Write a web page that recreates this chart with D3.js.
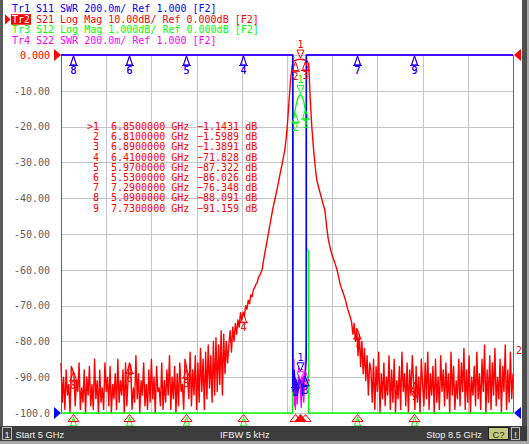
<!DOCTYPE html>
<html>
<head>
<meta charset="utf-8">
<script src="https://cdn.jsdelivr.net/npm/d3@7"></script>
<style>
  html, body { margin: 0; padding: 0; background: #fff; }
  svg { display: block; font-family: "DejaVu Sans Mono", monospace; font-size: 10px; }
</style>
</head>
<body>
<svg id="chart" width="529" height="444"></svg>
<script>
// ---- data ----
const fStart = 5, fStop = 8.5;
const gridFreqs = [5, 5.35, 5.7, 6.05, 6.4, 6.75, 7.1, 7.45, 7.8, 8.15, 8.5];
const yTickValues = [0, -10, -20, -30, -40, -50, -60, -70, -80, -90, -100];
const yTickLabels = ["0.000", "-10.00", "-20.00", "-30.00", "-40.00", "-50.00",
                     "-60.00", "-70.00", "-80.00", "-90.00", "-100.0"];

const traceNames = ["Tr1", "Tr2", "Tr3", "Tr4"];
const traceParams = ["S11", "S21", "S12", "S22"];
const traceFormats = ["SWR", "Log Mag", "Log Mag", "SWR"];
const traceScales = ["200.0m/", "10.00dB/", "1.000dB/", "200.0m/"];
const traceRefs = ["1.000", "0.000dB", "0.000dB", "1.000"];
const traceColors = ["#0000ff", "#ff0000", "#00ff00", "#ff00ff"];
const activeTrace = 1;

// S21 noise floor below the passband, 5.00 .. 6.29 GHz, 10 MHz apart
const noiseLoStart = 5.00, noiseStep = 0.01;
const s21NoiseLo = [
  -86, -97, -90, -99, -88, -95, -92, -100, -87, -88,
  -89, -98, -91, -94, -86, -99, -93, -97, -88, -100,
  -90, -95, -87, -98, -92, -99, -85, -96, -91, -100,
  -88, -97, -93, -99, -86, -94, -90, -98, -87, -100,
  -92, -96, -89, -99, -85, -97, -91, -95, -88, -100,
  -86, -98, -90, -86, -87, -99, -93, -97, -84, -96,
  -89, -100, -91, -95, -86, -98, -92, -99, -88, -97,
  -85, -96, -90, -100, -87, -94, -93, -98, -86, -99,
  -91, -97, -88, -95, -84, -99, -90, -96, -87, -100,
  -89, -98, -86, -94, -92, -99, -85, -87, -90, -96,
  -83, -98, -88, -95, -84, -99, -86, -97, -82, -94,
  -85, -99, -83, -96, -81, -93, -84, -97, -80, -95,
  -79, -94, -81, -92, -77, -95, -78, -89, -80, -86
];
// S21 skirts and passband [GHz, dB]
const s21Band = [
  [6.30, -81], [6.31, -77], [6.32, -83], [6.33, -76], [6.34, -80], [6.35, -75],
  [6.36, -78], [6.37, -74], [6.38, -76], [6.39, -72], [6.40, -74], [6.41, -71.828],
  [6.42, -73], [6.43, -70], [6.44, -71], [6.45, -68.5], [6.46, -69.5], [6.47, -67],
  [6.48, -67.5], [6.49, -65.5], [6.50, -65], [6.51, -64], [6.52, -63.5], [6.53, -62],
  [6.54, -61.5], [6.557, -60], [6.57, -57], [6.58, -55], [6.598, -51.5], [6.61, -49],
  [6.625, -46], [6.64, -43], [6.655, -40.5], [6.67, -38], [6.687, -35], [6.70, -32.5],
  [6.715, -30], [6.735, -26], [6.75, -21], [6.768, -11.7], [6.78, -6], [6.79, -3],
  [6.799, -1.8], [6.81, -1.5989], [6.83, -1.3], [6.85, -1.1431], [6.87, -1.25],
  [6.89, -1.3891], [6.905, -1.6], [6.918, -2.5], [6.929, -11.7], [6.942, -20],
  [6.955, -26], [6.968, -31], [6.98, -34.8], [6.995, -37], [7.01, -39], [7.025, -41],
  [7.044, -43.5], [7.057, -48], [7.07, -51.5], [7.085, -54], [7.10, -56], [7.12, -58],
  [7.137, -60], [7.15, -62], [7.161, -64], [7.175, -65.5], [7.19, -67], [7.199, -68],
  [7.21, -69.5], [7.22, -71], [7.238, -73], [7.25, -74.5], [7.26, -78], [7.27, -75],
  [7.28, -80], [7.29, -76.348]
];
// S21 noise floor above the passband, 7.30 .. 8.50 GHz
const noiseHiStart = 7.30;
const s21NoiseHi = [
  -84, -78, -87, -80, -89, -82, -91, -84, -95, -86,
  -88, -97, -85, -99, -87, -94, -83, -100, -89, -96,
  -86, -98, -90, -95, -84, -99, -88, -97, -85, -100,
  -91, -96, -87, -99, -83, -94, -89, -98, -86, -100,
  -88, -95, -84, -91.159, -99, -87, -97, -90, -100, -85,
  -92, -98, -86, -96, -83, -99, -89, -95, -87, -100,
  -85, -97, -90, -99, -84, -94, -88, -98, -86, -96,
  -89, -100, -83, -95, -87, -99, -91, -96, -85, -98,
  -86, -94, -82, -99, -88, -97, -84, -100, -90, -95,
  -87, -98, -83, -96, -89, -99, -85, -94, -81, -100,
  -88, -97, -84, -99, -86, -95, -82, -98, -90, -96,
  -85, -100, -87, -94, -81, -99, -88, -97, -83, -96,
  -89
];
// S12, 1 dB/div [GHz, dB]
const s12 = [
  [5.0, -60], [6.70, -40], [6.79, -15], [6.7925, -11], [6.7935, -3.4], [6.7995, -3.0],
  [6.80, -1.75], [6.81, -1.6], [6.82, -1.4], [6.835, -1.2], [6.85, -1.1], [6.865, -1.15],
  [6.88, -1.3], [6.89, -1.5], [6.897, -1.65], [6.90, -3], [6.901, -5.4], [6.912, -5.45],
  [6.9165, -5.5], [6.917, -10.5], [6.92, -15], [7.0, -40], [8.5, -60]
];
// S11 SWR
const s11 = [
  [5.0, 5], [6.7935, 5], [6.794, 1.17], [6.798, 1.12], [6.802, 1.2], [6.806, 1.24],
  [6.81, 1.2], [6.815, 1.1], [6.82, 1.18], [6.83, 1.1], [6.84, 1.14], [6.85, 1.23],
  [6.86, 1.16], [6.87, 1.1], [6.88, 1.2], [6.89, 1.21], [6.895, 1.25], [6.90, 1.3],
  [6.901, 5], [8.5, 5]
];
// S22 SWR
const s22 = [
  [5.0, 5], [6.798, 5], [6.7985, 1.45], [6.80, 1.1], [6.803, 1.3], [6.806, 1.04],
  [6.81, 1.2], [6.815, 1.02], [6.82, 1.15], [6.83, 1.05], [6.84, 1.25], [6.85, 1.18],
  [6.86, 1.03], [6.87, 1.2], [6.88, 1.06], [6.89, 1.24], [6.895, 1.35], [6.897, 1.4],
  [6.8975, 5], [8.5, 5]
];

const markerIds = ["1", "2", "3", "4", "5", "6", "7", "8", "9"];
const markerFreqs = [6.85, 6.81, 6.89, 6.41, 5.97, 5.53, 7.29, 5.09, 7.73];
const markerVals = [-1.1431, -1.5989, -1.3891, -71.828, -87.322, -86.026, -76.348, -88.091, -91.159];

const statusStart = "Start 5 GHz", statusIfbw = "IFBW 5 kHz", statusStop = "Stop 8.5 GHz";

// ---- layout ----
const plot = { left: 61, right: 513, top: 55, bottom: 413 };
const svg = d3.select("#chart");

const x = d3.scaleLinear().domain([fStart, fStop]).range([plot.left, plot.right]);
const yLog = d3.scaleLinear().domain([0, -100]).range([plot.top, plot.bottom]).clamp(true);
const yS12 = d3.scaleLinear().domain([0, -10]).range([plot.top, plot.bottom]).clamp(true);
const ySwr = d3.scaleLinear().domain([1, 3]).range([plot.bottom, plot.top]).clamp(true);

const s21 = s21NoiseLo.map((v, i) => [noiseLoStart + i * noiseStep, v])
  .concat(s21Band)
  .concat(s21NoiseHi.map((v, i) => [noiseHiStart + i * noiseStep, v]));

// window frame
svg.append("rect").attr("width", 529).attr("height", 444).attr("fill", "#fff");
svg.append("rect").attr("x", 0).attr("y", 0).attr("width", 3).attr("height", 426).attr("fill", "#5c5c5c");
svg.append("rect").attr("x", 522).attr("y", 0).attr("width", 5).attr("height", 426).attr("fill", "#4e4e4e");
svg.append("rect").attr("x", 527).attr("y", 0).attr("width", 2).attr("height", 444).attr("fill", "#a8a8a8");
svg.append("rect").attr("x", 0).attr("y", 441).attr("width", 529).attr("height", 3).attr("fill", "#a8a8a8");

// header lines
const header = svg.append("g");
traceNames.forEach((name, i) => {
  const yb = 12 + i * 10.7;
  if (i === activeTrace) {
    header.append("rect").attr("x", 11).attr("y", yb - 8.5).attr("width", 20).attr("height", 10.5)
      .attr("fill", traceColors[i]);
    header.append("path").attr("d", `M5,${yb - 8.5}L10.5,${yb - 3.2}L5,${yb + 2}Z`).attr("fill", traceColors[i]);
  }
  header.append("text").attr("x", 12).attr("y", yb)
    .attr("fill", i === activeTrace ? "#fff" : traceColors[i]).text(name);
  header.append("text").attr("x", 36).attr("y", yb).attr("fill", traceColors[i])
    .text(`${traceParams[i]} ${traceFormats[i]} ${traceScales[i]} Ref ${traceRefs[i]} [F2]`);
});

// grid
const gy = svg.append("g").attr("transform", `translate(${plot.left},0)`)
  .call(d3.axisLeft(yLog).tickValues(yTickValues).tickSize(-(plot.right - plot.left))
    .tickPadding(11).tickFormat((d, i) => yTickLabels[i]));
gy.select(".domain").remove();
gy.selectAll("line").attr("stroke", "#c4c4c4").attr("shape-rendering", "crispEdges");
gy.selectAll("text").attr("font-family", "DejaVu Sans Mono").attr("font-size", 10)
  .attr("fill", (d, i) => i === 0 ? "#ff0000" : "#5e5e5e");

const gx = svg.append("g").attr("transform", `translate(0,${plot.bottom})`)
  .call(d3.axisBottom(x).tickValues(gridFreqs).tickSize(-(plot.bottom - plot.top)).tickFormat(""));
gx.select(".domain").remove();
gx.selectAll("line").attr("stroke", "#c4c4c4").attr("shape-rendering", "crispEdges");

// plot frame sides
[plot.left, plot.right].forEach(px => {
  svg.append("line").attr("x1", px + 0.5).attr("x2", px + 0.5).attr("y1", plot.top).attr("y2", plot.bottom)
    .attr("stroke", "#666").attr("shape-rendering", "crispEdges");
});

// traces
const traces = svg.append("g").attr("fill", "none").attr("stroke-linejoin", "round");
const lineLog = d3.line().x(d => x(d[0])).y(d => yLog(d[1]));
const lineS12 = d3.line().x(d => x(d[0])).y(d => yS12(d[1]));
const lineSwr = d3.line().x(d => x(d[0])).y(d => ySwr(d[1]));

traces.append("path").attr("d", lineLog(s21)).attr("stroke", traceColors[1]).attr("stroke-width", 1.4);
traces.append("path").attr("d", lineS12(s12)).attr("stroke", traceColors[2]).attr("stroke-width", 1.3);
traces.append("path").attr("d", lineSwr(s22)).attr("stroke", traceColors[3]).attr("stroke-width", 1.3);
traces.append("path").attr("d", lineSwr(s11)).attr("stroke", traceColors[0]).attr("stroke-width", 1.3);

// marker glyphs
const bis = d3.bisector(d => d[0]).center;
const nearest = (data, f) => data[bis(data, f)][1];

function glyph(g, cx, cy, color, label, active) {
  cx = Math.round(cx) + 0.5;
  if (active) {
    g.append("path").attr("d", `M${cx},${cy - 1}L${cx - 3.5},${cy - 9}L${cx + 3.5},${cy - 9}Z`)
      .attr("fill", "#fff").attr("stroke", color);
    g.append("text").attr("x", cx).attr("y", cy - 11).attr("text-anchor", "middle").attr("fill", color).text(label);
  } else {
    g.append("path").attr("d", `M${cx},${cy + 1}L${cx - 3},${cy + 10}L${cx + 3},${cy + 10}Z`)
      .attr("fill", "none").attr("stroke", color);
    g.append("line").attr("x1", cx - 4.5).attr("x2", cx + 4.5).attr("y1", cy + 10.5).attr("y2", cy + 10.5)
      .attr("stroke", color);
    // a label that would fall below the grid is hidden by the status bar on the instrument
    if (cy + 19 < plot.bottom) {
      g.append("text").attr("x", cx).attr("y", cy + 19).attr("text-anchor", "middle").attr("fill", color).text(label);
    }
  }
}

const marks = svg.append("g");
markerFreqs.forEach((f, i) => {
  glyph(marks, x(f), yLog(markerVals[i]), traceColors[1], markerIds[i], i === 0);
});
markerFreqs.forEach((f, i) => {
  glyph(marks, x(f), yS12(nearest(s12, f)) + (yS12(nearest(s12, f)) >= plot.bottom ? 3 : 0),
    traceColors[2], markerIds[i], i === 0);
});
markerFreqs.forEach((f, i) => {
  glyph(marks, x(f), ySwr(nearest(s22, f)), traceColors[3], markerIds[i], i === 0);
});
markerFreqs.forEach((f, i) => {
  glyph(marks, x(f), ySwr(nearest(s11, f)), traceColors[0], markerIds[i], i === 0);
});

// stimulus markers along the bottom edge
markerFreqs.forEach((f, i) => {
  const cx = Math.round(x(f)) + 0.5;
  marks.append("path").attr("d", `M${cx},${plot.bottom + 1.5}L${cx - 5.5},${plot.bottom + 8.5}L${cx + 5.5},${plot.bottom + 8.5}Z`)
    .attr("fill", i === 0 ? traceColors[1] : "none").attr("stroke", traceColors[1]);
});

// reference position arrows
const ref = svg.append("g");
ref.append("path").attr("d", `M${plot.left - 7},${plot.top - 6}L${plot.left},${plot.top}L${plot.left - 7},${plot.top + 6}Z`).attr("fill", traceColors[1]);
ref.append("path").attr("d", `M${plot.left - 7},${plot.bottom - 6}L${plot.left},${plot.bottom}L${plot.left - 7},${plot.bottom + 6}Z`).attr("fill", traceColors[0]);
ref.append("path").attr("d", `M${plot.right + 8},${plot.top - 6}L${plot.right + 1},${plot.top}L${plot.right + 8},${plot.top + 6}Z`).attr("fill", traceColors[1]);
ref.append("path").attr("d", `M${plot.right + 8},${plot.bottom - 6}L${plot.right + 1},${plot.bottom}L${plot.right + 8},${plot.bottom + 6}Z`).attr("fill", traceColors[0]);
ref.append("text").attr("x", plot.right + 3).attr("y", 354).attr("fill", traceColors[1]).text("2");

// marker table
const table = svg.append("g").attr("fill", traceColors[1]);
const fmtF = d3.format(".7f"), fmtV = d3.format(".5r");
markerIds.forEach((id, i) => {
  const yb = 130 + i * 10.2;
  table.append("text").attr("x", 99).attr("y", yb).attr("text-anchor", "end").text((i === 0 ? ">" : "") + id);
  table.append("text").attr("x", 111).attr("y", yb).text(`${fmtF(markerFreqs[i])} GHz`);
  table.append("text").attr("x", 197).attr("y", yb).text(`${fmtV(markerVals[i])} dB`);
});

// status bar
const bar = svg.append("g").style("font-family", "'Liberation Sans', Arial, sans-serif").style("font-size", "9.3px");
bar.append("rect").attr("x", 0).attr("y", 426).attr("width", 527).attr("height", 15).attr("fill", "#3c3c3c");
bar.append("rect").attr("x", 2.5).attr("y", 427.5).attr("width", 9).attr("height", 12).attr("fill", "#3c3c3c").attr("stroke", "#b8b8b8");
bar.append("text").attr("x", 7).attr("y", 437.5).attr("text-anchor", "middle").attr("fill", "#f0f0f0").text("1");
bar.append("text").attr("x", 15.5).attr("y", 437.5).attr("fill", "#f0f0f0").text(statusStart);
bar.append("text").attr("x", 220).attr("y", 437.5).attr("fill", "#f0f0f0").text(statusIfbw);
bar.append("text").attr("x", 482).attr("y", 437.5).attr("text-anchor", "end").attr("fill", "#f0f0f0").text(statusStop);
bar.append("rect").attr("x", 488.5).attr("y", 427.5).attr("width", 20).attr("height", 12).attr("fill", "#c8c87c").attr("stroke", "#1e1e1e");
bar.append("text").attr("x", 498.5).attr("y", 437.5).attr("text-anchor", "middle").attr("fill", "#1e1e1e").text("C?");
bar.append("rect").attr("x", 511.5).attr("y", 427.5).attr("width", 8).attr("height", 12).attr("fill", "#3c3c3c").attr("stroke", "#b8b8b8");
bar.append("text").attr("x", 515.5).attr("y", 437.5).attr("text-anchor", "middle").attr("fill", "#f0f0f0").text("!");
</script>
</body>
</html>
